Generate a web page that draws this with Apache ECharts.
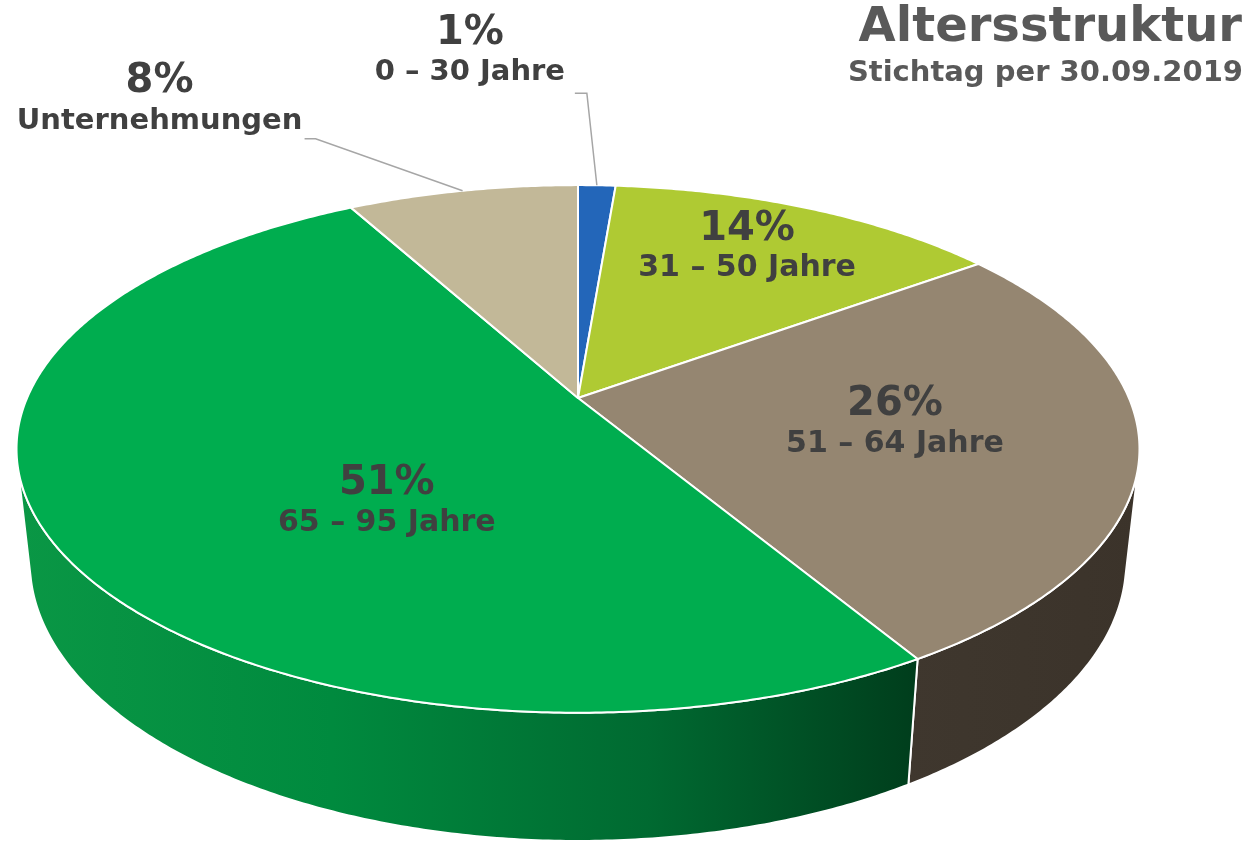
<!DOCTYPE html>
<html>
<head>
<meta charset="utf-8">
<script src="https://cdn.jsdelivr.net/npm/echarts@6/dist/echarts.min.js"></script>
<style>
  html, body { margin: 0; padding: 0; background: #fff; }
  #main { width: 1252px; height: 843px; }
</style>
</head>
<body>
<div id="main"></div>
<script>
// Altersstruktur – Torte in 3D, Projektion von Hand
var categories = ['0 – 30 Jahre', '31 – 50 Jahre', '51 – 64 Jahre', '65 – 95 Jahre', 'Unternehmungen']
var shares = [1.3, 13.7, 26.4, 50.6, 8.0]
var titleText = 'Altersstruktur'
var subtitleText = 'Stichtag per 30.09.2019'

// Farben (Deckel, Seitenwand)
var topColors = ['#2366b9', '#afca33', '#958671', '#00ad4f', '#c2b898']
var wallStops = [
  null,
  null,
  [[0, '#3f372e'], [1, '#3b332a']],
  [[0, '#0a9745'], [0.35, '#008a3e'], [0.7, '#006a31'], [1, '#003d1c']],
  null
]
var textColor = '#404040'
var FONT = '"DejaVu Sans", Verdana, sans-serif'

// Beschriftung: innen (Winkel/Radius auf der Scheibe) oder aussen mit Fuehrungslinie
var labelPlace = [
  { outside: true, elbow: [-10, -92], end: [-22, -92], tx: -127, py: -151.5, ny: -112.5 },
  { angle: 27.5, r: 0.75 },
  { angle: 100, r: 0.573 },
  { angle: 220, r: 0.5 },
  { outside: true, elbow: [-147, -52], end: [-158, -52], tx: -303, py: -109.5, ny: -69 }
]

// Kamera
var CX = 578, CY = 398, F = 2532, D = 4.596, SIN_T = 0.461, COS_T = 0.887, H = 0.233
var WALL_FROM = Math.acos(-1 / (D * COS_T)) * 180 / Math.PI
var WALL_TO = 360 - WALL_FROM

function project(deg, r, z) {
  var a = deg * Math.PI / 180
  var x = r * Math.sin(a)
  var y = r * Math.cos(a)
  var w = D + y * COS_T - z * SIN_T
  return [CX + F * x / w, CY + F * (-y * SIN_T - z * COS_T) / w]
}

var total = shares.reduce(function (s, v) { return s + v }, 0)
var startDeg = []
var acc = 0
shares.forEach(function (v) {
  startDeg.push(acc / total * 360)
  acc += v
})

function rim(a0, a1, z) {
  var pts = []
  for (var a = a0; a < a1; a += 0.5) pts.push(project(a, 1, z))
  pts.push(project(a1, 1, z))
  return pts
}

function textEl(x, y, text, size) {
  return {
    type: 'text', z2: 100, x: x, y: y,
    style: { text: text, fill: textColor, font: 'bold ' + size + 'px ' + FONT, align: 'center', verticalAlign: 'middle' }
  }
}

function renderItem(params, api) {
  var i = params.dataIndex
  var a0 = startDeg[i]
  var a1 = a0 + api.value(0) / total * 360
  var children = []

  // Deckel
  var top = [project(0, 0, 0)].concat(rim(a0, a1, 0))
  children.push({
    type: 'polygon', z2: 10,
    shape: { points: top },
    style: { fill: topColors[i], stroke: '#fff', lineWidth: 2, lineJoin: 'round' }
  })

  // Seitenwand (nur vorne sichtbar)
  var w0 = Math.max(a0, WALL_FROM)
  var w1 = Math.min(a1, WALL_TO)
  if (w1 > w0 && wallStops[i]) {
    var upper = rim(w0, w1, 0)
    var lower = rim(w0, w1, -H).reverse()
    children.push({
      type: 'polygon', z2: 1,
      shape: { points: upper.concat(lower) },
      style: {
        fill: new echarts.graphic.LinearGradient(0, 0, 1, 0, wallStops[i].map(function (s) {
          return { offset: s[0], color: s[1] }
        })),
        stroke: '#fff', lineWidth: 2, lineJoin: 'round'
      }
    })
  }

  // Beschriftung
  var lp = labelPlace[i]
  var pct = Math.round(api.value(0)) + '%'
  var name = categories[i]
  if (lp.outside) {
    var p = project((a0 + a1) / 2, 1, 0)
    children.push({
      type: 'polyline', z2: 50,
      shape: { points: [p, [p[0] + lp.elbow[0], p[1] + lp.elbow[1]], [p[0] + lp.end[0], p[1] + lp.end[1]]] },
      style: { stroke: '#a6a6a6', lineWidth: 1.5, fill: null }
    })
    children.push(textEl(p[0] + lp.tx, p[1] + lp.py, pct, 40))
    children.push(textEl(p[0] + lp.tx, p[1] + lp.ny, name, 29))
  } else {
    var c = project(lp.angle, lp.r, 0)
    children.push(textEl(c[0], c[1] - 19, pct, 40))
    children.push(textEl(c[0], c[1] + 20, name, 30))
  }

  return { type: 'group', children: children }
}

var myChart = echarts.init(document.getElementById('main'))
myChart.setOption({
  animation: false,
  graphic: [
    {
      type: 'text', x: 1242, y: 29,
      style: { text: titleText, fill: '#595959', font: 'bold 48px ' + FONT, align: 'right', verticalAlign: 'middle' }
    },
    {
      type: 'text', x: 1243, y: 73,
      style: { text: subtitleText, fill: '#595959', font: 'bold 29px ' + FONT, align: 'right', verticalAlign: 'middle' }
    }
  ],
  series: [{
    type: 'custom',
    coordinateSystem: 'none',
    renderItem: renderItem,
    data: shares.map(function (v, i) { return { name: categories[i], value: [v] } })
  }]
})
</script>
</body>
</html>
